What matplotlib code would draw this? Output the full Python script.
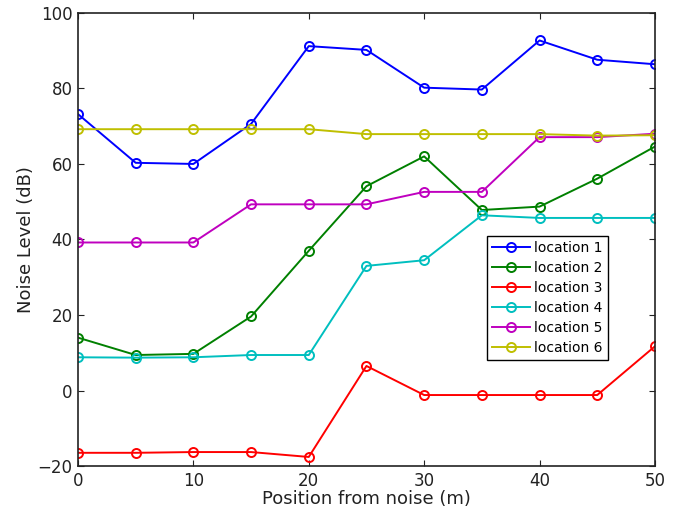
import matplotlib
matplotlib.use("Agg")
import matplotlib.pyplot as plt

# Position from noise source (m)
position = [0, 5, 10, 15, 20, 25, 30, 35, 40, 45, 50]

# Noise level (dB) at each location
location_1 = [73.2, 60.3, 60.0, 70.6, 91.2, 90.2, 80.2, 79.7, 92.7, 87.6, 86.4]
location_2 = [14.0, 9.4, 9.7, 19.6, 37.0, 54.1, 62.0, 47.8, 48.7, 56.1, 64.6]
location_3 = [-16.5, -16.5, -16.3, -16.3, -17.6, 6.5, -1.2, -1.2, -1.2, -1.2, 11.7]
location_4 = [8.8, 8.7, 8.8, 9.4, 9.4, 33.0, 34.5, 46.4, 45.7, 45.7, 45.7]
location_5 = [39.2, 39.2, 39.2, 49.3, 49.3, 49.3, 52.6, 52.6, 67.1, 67.1, 68.0]
location_6 = [69.2, 69.2, 69.2, 69.2, 69.2, 67.9, 67.9, 67.9, 67.9, 67.5, 67.6]

series = [location_1, location_2, location_3, location_4, location_5, location_6]
labels = ["location 1", "location 2", "location 3", "location 4", "location 5", "location 6"]
colors = ["#0000ff", "#008000", "#ff0000", "#00bfbf", "#bf00bf", "#bfbf00"]

plt.rcParams["font.family"] = "DejaVu Sans"

fig = plt.figure(figsize=(6.74, 5.12), dpi=100)
ax = fig.add_axes([0.1157, 0.0898, 0.856, 0.885])

for values, label, color in zip(series, labels, colors):
    ax.plot(position, values, color=color, linewidth=1.4, marker="o", markersize=6.5,
            markerfacecolor="none", markeredgewidth=1.4, label=label)

ax.set_xlim(0, 50)
ax.set_ylim(-20, 100)
ax.set_xticks(range(0, 51, 10))
ax.set_yticks(range(-20, 101, 20))
ax.tick_params(direction="in", top=True, right=True, length=4, labelsize=12, colors="#222222", pad=4)
for spine in ax.spines.values():
    spine.set_linewidth(1.2)
    spine.set_color("#222222")

ax.set_xlabel("Position from noise (m)", fontsize=13, color="#222222", labelpad=0)
ax.set_ylabel("Noise Level (dB)", fontsize=13, color="#222222", labelpad=2)

leg = ax.legend(loc="upper left", bbox_to_anchor=(0.709, 0.508), borderaxespad=0, fontsize=10,
                fancybox=False, framealpha=1, edgecolor="black", borderpad=0.35, labelspacing=0.44,
                handlelength=2.75, handletextpad=0.3)
leg.get_frame().set_linewidth(1.0)

fig.savefig("out.png", dpi=100)
